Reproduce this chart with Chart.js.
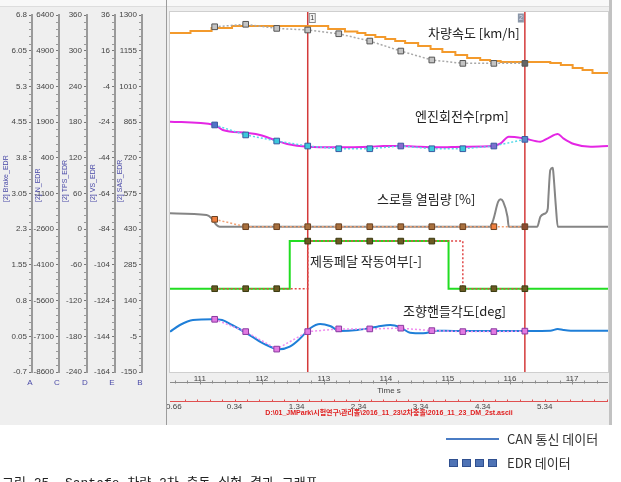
<!DOCTYPE html>
<html>
<head>
<meta charset="utf-8">
<title>EDR vs CAN</title>
<script src="https://cdn.jsdelivr.net/npm/chart.js@4.4.1/dist/chart.umd.min.js"></script>
<style>
  html, body { margin: 0; padding: 0; background: #fff; overflow: hidden; }
  canvas { display: block; }
</style>
</head>
<body>
<canvas id="chart" width="621" height="482"></canvas>
<script>
// axis ticks
var timeTicks  = [111, 112, 113, 114, 115, 116, 117];
var relTicks   = [-0.66, 0.34, 1.34, 2.34, 3.34, 4.34, 5.34];
var brakeTicks = [6.8, 6.05, 5.3, 4.55, 3.8, 3.05, 2.3, 1.55, 0.8, 0.05, -0.7];
var rpmTicks   = [6400, 4900, 3400, 1900, 400, -1100, -2600, -4100, -5600, -7100, -8600];
var tpsTicks   = [360, 300, 240, 180, 120, 60, 0, -60, -120, -180, -240];
var speedTicks = [36, 16, -4, -24, -44, -64, -84, -104, -124, -144, -164];
var steerTicks = [1300, 1155, 1010, 865, 720, 575, 430, 285, 140, -5, -150];
var cursorTimes = [112.74, 116.24];

// EDR samples (0.5 s)
var edrTime  = [111.24, 111.74, 112.24, 112.74, 113.24, 113.74, 114.24, 114.74, 115.24, 115.74, 116.24];
var edrSpeed = [29.4, 30.8, 28.5, 27.6, 25.5, 21.4, 15.8, 10.8, 8.9, 8.9, 8.9];
var edrRpm   = [1780, 1360, 1105, 895, 780, 780, 895, 780, 780, 895, 1175];
var edrTps   = [16.6, 4.2, 4.2, 4.2, 4.2, 4.2, 4.2, 4.2, 4.2, 4.2, 4.2];
var edrBrake = [1.05, 1.05, 1.05, 2.05, 2.05, 2.05, 2.05, 2.05, 1.05, 1.05, 1.05];
var edrSteer = [64, 14, -57, 14, 25, 25, 28, 18, 14, 14, 16];

// CAN data
var speedTime = [110.52, 110.85, 111.19, 111.52, 113.07, 113.34, 113.54, 113.67, 113.83, 113.99, 114.15, 114.31, 114.52, 114.72, 114.91, 115.12, 115.31, 115.52, 115.68, 115.85, 116.65, 116.82, 117.01, 117.17, 117.33, 117.58];
var speedVal  = [25.9, 27.0, 28.7, 29.8, 28.2, 26.8, 25.9, 24.8, 23.7, 22.6, 21.4, 20.3, 18.6, 17.0, 15.3, 13.6, 11.9, 10.8, 10.2, 9.7, 9.1, 8.0, 6.3, 5.2, 3.5, 3.5];

var rpmTime = [110.52, 111.24, 111.37, 111.76, 111.97, 112.24, 112.41, 112.74, 113.21, 113.75, 113.96, 114.23, 114.55, 114.83, 115.25, 115.73, 115.85, 115.98, 116.22, 116.49, 116.61, 116.77, 116.86, 117.03, 117.30, 117.58];
var rpmVal  = [1917, 1778, 1568, 1442, 1358, 1118, 980, 866, 841, 866, 896, 896, 866, 841, 866, 896, 1009, 1287, 1219, 1076, 1219, 1400, 1219, 980, 866, 896];

var tpsTime = [110.52, 111.11, 111.19, 111.27, 111.32, 115.68, 115.73, 115.81, 115.85, 115.89, 115.96, 115.98, 116.44, 116.49, 116.57, 116.61, 116.62, 116.65, 116.69, 116.70, 116.74, 116.77, 117.58];
var tpsVal  = [26.7, 23.9, 18.3, 7.1, 4.2, 4.2, 15.5, 46.2, 50.2, 46.2, 21.0, 4.2, 4.2, 21.0, 26.7, 35.1, 54.6, 99.5, 103.4, 94.0, 37.8, 4.2, 4.2];

var brakeTime = [110.52, 112.45, 115.01, 117.58];
var brakeVal  = [1.05, 2.05, 1.05, 1.05];

var steerTime = [110.52, 110.68, 110.89, 111.21, 111.36, 111.52, 111.76, 112.02, 112.29, 112.45, 112.62, 112.78, 112.94, 113.10, 113.26, 113.54, 113.86, 114.07, 114.23, 114.39, 114.60, 114.83, 115.09, 115.90, 116.65, 116.77, 116.86, 116.98, 117.58];
var steerVal  = [13.7, 40.9, 61.2, 64.0, 61.2, 40.9, 7.2, -33.4, -57.8, -47.2, -13.1, 27.5, 45.0, 36.8, 16.5, 20.6, 34.0, 40.9, 31.6, 9.6, 7.2, 17.7, 16.5, 16.5, 17.7, 24.7, 20.6, 17.7, 17.7];

var fileName = 'D:\\01_JMPark\\시험연구\\관리폴\\2016_11_23\\2차충돌\\2016_11_23_DM_2st.ascii';

var axisFont = "'Liberation Sans', Arial, sans-serif";
var krFont = "'Noto Sans CJK KR', sans-serif";
Chart.defaults.font.family = axisFont;

function pts(t, v) {
  return t.map(function (x, i) { return {x: x, y: v[i]}; });
}

function yAxis(ticks, weight, width) {
  return {
    type: 'linear', position: 'left', weight: weight,
    min: Math.min.apply(null, ticks), max: Math.max.apply(null, ticks),
    afterBuildTicks: function (s) { s.ticks = ticks.map(function (v) { return {value: v}; }); },
    afterFit: function (s) { s.width = width; },
    ticks: {autoSkip: false, padding: 2, color: '#444', font: {size: 8}, callback: function (v) { return String(v); }},
    grid: {drawOnChartArea: false, tickLength: 3, color: '#777'},
    border: {color: '#9a9a9a', width: 2}
  };
}

function canSet(t, v, axis, color, extra) {
  var d = {data: pts(t, v), yAxisID: axis, borderColor: color, borderWidth: 2, pointRadius: 0, order: 2, cubicInterpolationMode: 'monotone'};
  return Object.assign(d, extra || {});
}

function edrSet(v, axis, lineColor, fill, border, extra) {
  var d = {data: pts(edrTime, v), yAxisID: axis, borderColor: lineColor, borderWidth: 1.5, borderDash: [2, 2],
    pointStyle: 'rect', pointRadius: 4, pointBackgroundColor: fill, pointBorderColor: border, pointBorderWidth: 1, order: 1};
  return Object.assign(d, extra || {});
}

var datasets = [
  edrSet(edrSpeed, 'E', '#a8a8a8', '#c4c4c4', '#555', {pointBackgroundColor: ['#c4c4c4','#c4c4c4','#c4c4c4','#c4c4c4','#c4c4c4','#c4c4c4','#c4c4c4','#c4c4c4','#c4c4c4','#c4c4c4','#666']}),
  edrSet(edrRpm, 'C', '#54d8e8', '#3cc8dc', '#3a5aa0', {pointBackgroundColor: ['#4f73c8','#3cc8dc','#3cc8dc','#3cc8dc','#3cc8dc','#3cc8dc','#8a6ad0','#3cc8dc','#3cc8dc','#7a70d0','#5a8ac8']}),
  edrSet(edrTps, 'D', '#f2a274', '#a8703e', '#6a4020', {pointBackgroundColor: ['#f08040','#a8703e','#a8703e','#a8703e','#a8703e','#a8703e','#a8703e','#a8703e','#a8703e','#f08040','#8a4a30']}),
  edrSet(edrBrake, 'A', '#e04848', '#6a5a22', '#3a3a12', {stepped: true}),
  edrSet(edrSteer, 'B', '#f08cf0', '#e27ae2', '#8a3aa0'),
  canSet(speedTime, speedVal, 'E', '#f39a2c', {stepped: true}),
  canSet(rpmTime, rpmVal, 'C', '#e426e4'),
  canSet(tpsTime, tpsVal, 'D', '#858585'),
  canSet(brakeTime, brakeVal, 'A', '#22dd22', {stepped: true}),
  canSet(steerTime, steerVal, 'B', '#1f7fd8')
];

var deco = {
  id: 'deco',
  beforeDraw: function (chart) {
    var c = chart.ctx, a = chart.chartArea;
    c.save();
    c.fillStyle = '#ffffff'; c.fillRect(0, 0, chart.width, chart.height);
    c.fillStyle = '#efefef'; c.fillRect(0, 0, 612, 425);
    c.fillStyle = '#f8f8f8'; c.fillRect(0, 0, 612, 6);
    c.fillStyle = '#dddddd'; c.fillRect(0, 6, 612, 1);
    c.fillStyle = '#ffffff'; c.fillRect(a.left, 12, a.right - a.left, a.bottom - 12);
    c.strokeStyle = '#cfcfcf'; c.lineWidth = 1;
    c.strokeRect(a.left - 0.5, 11.5, a.right - a.left + 1, a.bottom - 11);
    c.restore();
  },
  beforeDatasetsDraw: function (chart) {
    var c = chart.ctx, a = chart.chartArea, sx = chart.scales.x;
    c.save();
    c.strokeStyle = '#d43a3a'; c.lineWidth = 1.5;
    cursorTimes.forEach(function (t) {
      var px = sx.getPixelForValue(t);
      c.beginPath(); c.moveTo(px, 12); c.lineTo(px, a.bottom); c.stroke();
    });
    c.restore();
  },
  afterDraw: function (chart) {
    var c = chart.ctx, a = chart.chartArea, sx = chart.scales.x, s2 = chart.scales.x2;
    c.save();

    // minor ticks on left axes
    c.strokeStyle = '#999'; c.lineWidth = 1;
    ['A', 'C', 'D', 'E', 'B'].forEach(function (id) {
      var s = chart.scales[id];
      for (var i = 0; i < s.ticks.length - 1; i++) {
        var p0 = s.getPixelForValue(s.ticks[i].value), p1 = s.getPixelForValue(s.ticks[i + 1].value);
        for (var k = 1; k < 5; k++) {
          var py = Math.round(p0 + (p1 - p0) * k / 5) + 0.5;
          c.beginPath(); c.moveTo(s.right - 3, py); c.lineTo(s.right - 1, py); c.stroke();
        }
      }
    });

    // time axis line
    var ly = 382.5;
    c.strokeStyle = '#8c8c8c';
    c.beginPath(); c.moveTo(a.left, ly); c.lineTo(a.right, ly); c.stroke();
    for (var t = 110.6; t < sx.max; t += 0.2) {
      var px = Math.round(sx.getPixelForValue(t)) + 0.5;
      var major = Math.abs(t - Math.round(t)) < 0.01;
      c.beginPath(); c.moveTo(px, ly - (major ? 3 : 2)); c.lineTo(px, ly + (major ? 2 : 1)); c.stroke();
    }
    // relative axis line
    var ry = 401.5;
    c.strokeStyle = '#e05050';
    c.beginPath(); c.moveTo(a.left, ry); c.lineTo(a.right, ry); c.stroke();
    for (var r = -0.46; r < s2.max; r += 0.2) {
      var qx = Math.round(s2.getPixelForValue(r)) + 0.5;
      c.beginPath(); c.moveTo(qx, ry - 2); c.lineTo(qx, ry); c.stroke();
    }

    // clip of the first relative label under the left panel
    c.fillStyle = '#efefef'; c.fillRect(130, 398, 37, 22);
    c.fillStyle = '#9c9c9c'; c.fillRect(166, 0, 1, 425);
    c.fillStyle = '#c2c2c2'; c.fillRect(609, 0, 3, 425);

    // axis titles + letters
    c.fillStyle = '#4a4aa8';
    c.font = '7px ' + axisFont;
    c.textBaseline = 'middle';
    [['[2] Brake_EDR', 6], ['[2] N_EDR', 38], ['[2] TPS_EDR', 65], ['[2] VS_EDR', 93], ['[2] SAS_EDR', 120]].forEach(function (tt) {
      c.save(); c.translate(tt[1], 202); c.rotate(-Math.PI / 2);
      c.textAlign = 'left'; c.fillText(tt[0], 0, 0);
      c.restore();
    });
    c.font = '8px ' + axisFont; c.textAlign = 'center';
    [['A', 30], ['C', 57], ['D', 85], ['E', 112], ['B', 140]].forEach(function (l) { c.fillText(l[0], l[1], 383); });

    // channel names
    c.fillStyle = '#222'; c.font = '13px ' + krFont; c.textAlign = 'left';
    c.fillText('차량속도 [km/h]', 428, 33);
    c.fillText('엔진회전수[rpm]', 415, 116);
    c.fillText('스로틀 열림량 [%]', 377, 199);
    c.fillText('제동페달 작동여부[-]', 310, 261);
    c.fillText('조향핸들각도[deg]', 403, 311);

    // cursor tags
    var c1 = sx.getPixelForValue(cursorTimes[0]), c2 = sx.getPixelForValue(cursorTimes[1]);
    c.lineWidth = 1;
    c.fillStyle = '#f4f4f4'; c.strokeStyle = '#888';
    c.fillRect(c1 + 1.5, 13.5, 6, 9); c.strokeRect(c1 + 1.5, 13.5, 6, 9);
    c.fillStyle = '#333'; c.font = '7px ' + axisFont; c.textAlign = 'center';
    c.fillText('1', c1 + 4.5, 18.5);
    c.fillStyle = '#8a96a8'; c.fillRect(c2 - 7, 13.5, 6, 9);
    c.fillStyle = '#dde'; c.fillText('2', c2 - 4, 18.5);

    // legend
    c.strokeStyle = '#4a7cc4'; c.lineWidth = 2;
    c.beginPath(); c.moveTo(446, 439); c.lineTo(499, 439); c.stroke();
    c.fillStyle = '#4f73b5'; c.strokeStyle = '#2f4f8f'; c.lineWidth = 1;
    [449, 462, 475, 488].forEach(function (x) { c.fillRect(x, 459, 9, 8); c.strokeRect(x + 0.5, 459.5, 8, 7); });
    c.fillStyle = '#333'; c.font = '13px ' + krFont; c.textAlign = 'left';
    c.fillText('CAN 통신 데이터', 507, 439);
    c.fillText('EDR 데이터', 507, 463);

    // caption (cut by the page edge)
    c.fillStyle = '#222'; c.font = "13px 'Liberation Mono', 'Noto Sans CJK KR', monospace";
    c.textBaseline = 'alphabetic';
    c.fillText('그림 25. Santafe 차량 2차 충돌 실험 결과 그래프', 2, 487);
    c.restore();
  }
};

new Chart(document.getElementById('chart'), {
  type: 'line',
  data: {datasets: datasets},
  options: {
    responsive: false,
    animation: false,
    layout: {padding: {left: 0, right: 13, top: 15, bottom: 62}},
    plugins: {legend: {display: false}, tooltip: {enabled: false}},
    scales: {
      x: {
        type: 'linear', position: 'bottom', weight: 0, min: 110.52, max: 117.58,
        afterBuildTicks: function (s) { s.ticks = timeTicks.map(function (v) { return {value: v}; }); },
        afterFit: function (s) { s.height = 28; },
        ticks: {autoSkip: false, maxRotation: 0, padding: 2, color: '#444', font: {size: 8}, callback: function (v) { return String(v); }},
        grid: {display: false, drawTicks: false},
        border: {display: false},
        title: {display: true, text: 'Time s', color: '#444', font: {size: 8}, padding: {top: 0, bottom: 4}}
      },
      x2: {
        type: 'linear', axis: 'x', position: 'bottom', weight: 1, min: -0.70, max: 6.36,
        afterBuildTicks: function (s) { s.ticks = relTicks.map(function (v) { return {value: v}; }); },
        afterFit: function (s) { s.height = 20; },
        ticks: {autoSkip: false, maxRotation: 0, padding: 2, color: '#444', font: {size: 8}, callback: function (v) { return String(v); }},
        grid: {display: false, drawTicks: false},
        border: {display: false},
        title: {display: true, text: fileName, color: '#e02020', font: {size: 7, weight: 'bold', family: "'Liberation Sans', 'Noto Sans CJK KR', sans-serif"}, padding: {top: 0, bottom: 3}}
      },
      A: yAxis(brakeTicks, 6, 32),
      C: yAxis(rpmTicks, 5, 27),
      D: yAxis(tpsTicks, 4, 28),
      E: yAxis(speedTicks, 3, 28),
      B: yAxis(steerTicks, 2, 27),
      G: {
        type: 'linear', position: 'left', weight: 1, min: 0, max: 1, display: true,
        afterFit: function (s) { s.width = 28; },
        ticks: {display: false}, grid: {display: false}, border: {display: false}
      }
    }
  },
  plugins: [deco]
});
</script>
</body>
</html>
